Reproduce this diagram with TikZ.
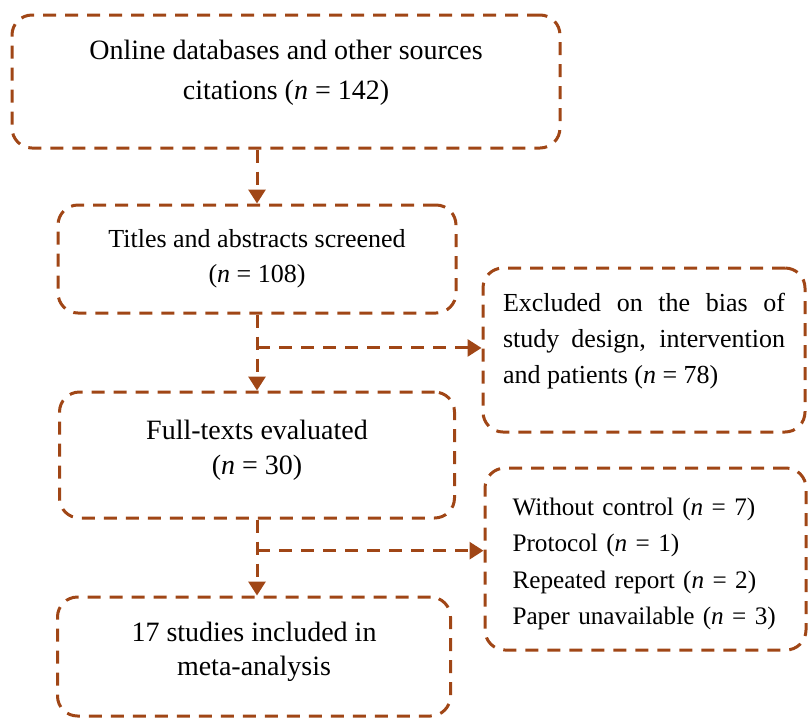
\documentclass[tikz,border=0pt]{standalone}
\usepackage{fontspec}
\setmainfont{Liberation Serif}
\usetikzlibrary{arrows.meta, calc}
\definecolor{flowbrown}{RGB}{160,70,22}
\newcommand{\padbelow}[1]{\rule[-#1]{0pt}{#1}}
\newcommand{\padabove}[1]{\rule{0pt}{#1}}
\tikzstyle{stage} = [rectangle, rounded corners=10pt, line width=1.5pt, dash pattern=on 6.5pt off 4.5pt, draw=flowbrown, inner sep=0pt, align=center, font=\fontsize{13}{17.5}\selectfont]
\tikzstyle{bigstage} = [stage, font=\fontsize{14}{17.5}\selectfont]
\tikzstyle{note} = [stage, align=left, inner xsep=10pt, minimum width=160.5pt]
\tikzstyle{arrow} = [line width=1.5pt, dash pattern=on 6.5pt off 4.5pt, draw=flowbrown, -{Triangle[width=8.5pt,length=7pt]}]

\begin{document}
\begin{tikzpicture}[x=0.5pt, y=-0.5pt]
		\useasboundingbox (0,0) rectangle (808,719);
		\node (Sources) [bigstage, font=\fontsize{14}{20}\selectfont, minimum width=274pt, minimum height=66.5pt] at (286,81.5) {Online databases and other sources\\citations (\textit{n} = 142)\padbelow{12pt}};
		\node (Screened) [stage, minimum width=199pt, minimum height=54pt] at (257,259) {Titles and abstracts screened\\(\textit{n} = 108)};
		\node (FullText) [bigstage, minimum width=197.5pt, minimum height=63pt] at (257,455) {Full-texts evaluated\\(\textit{n} = 30)\padbelow{8pt}};
		\node (Included) [bigstage, font=\fontsize{14}{17}\selectfont, minimum width=196.5pt, minimum height=59.5pt] at (254,656.5) {17 studies included in\\meta-analysis\padbelow{8pt}};
		\node (Excluded) [note, align=justify, text width=141pt, font=\fontsize{13}{18}\selectfont, minimum height=82pt] at (644,350) {Excluded on the bias of\linebreak study design, intervention\linebreak and patients (\textit{n} = 78)\padbelow{12pt}};
		\node (Reasons) [note, text width=133pt, font=\fontsize{12.6}{18.25}\selectfont, minimum height=91pt] at (645.5,559) {\padabove{13.5pt}Without control (\textit{n} = 7)\\Protocol (\textit{n} = 1)\\Repeated report (\textit{n} = 2)\\Paper unavailable (\textit{n} = 3)};
		
		\path (Screened.south) -- (FullText.north) coordinate[pos=0.44] (ScreenedSplit);
		\path (FullText.south) -- (Included.north -| FullText.south) coordinate[pos=0.41] (FullTextSplit);
		
		\draw [arrow] (Sources.south -| Screened.north) -- (Screened.north);
		\draw [arrow] (Screened.south) -- (FullText.north);
		\draw [arrow] (ScreenedSplit) -- (ScreenedSplit -| Excluded.west);
		\draw [arrow] (FullText.south) -- (Included.north -| FullText.south);
		\draw [arrow] (FullTextSplit) -- (FullTextSplit -| Reasons.west);
\end{tikzpicture}
\end{document}
